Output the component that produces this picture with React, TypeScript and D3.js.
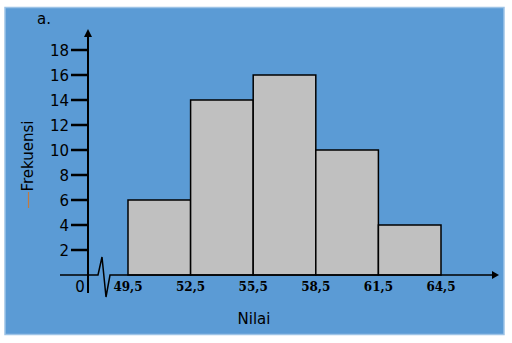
import React from "react";
import * as d3 from "d3";

const edges = [49.5, 52.5, 55.5, 58.5, 61.5, 64.5];
const edgeLabels = ["49,5", "52,5", "55,5", "58,5", "61,5", "64,5"];
const frequencies = [6, 14, 16, 10, 4];
const yTicks = [2, 4, 6, 8, 10, 12, 14, 16, 18];

const W = 512;
const H = 343;

export default function App() {
  const x = d3.scaleLinear().domain([49.5, 64.5]).range([128, 441]);
  const y = d3.scaleLinear().domain([0, 18]).range([275, 50]);
  const y0 = y(0);
  const axisX = 88;

  const baseLine = d3.line()([
    [60, y0],
    [98, y0],
    [102, y0 - 18],
    [106, y0 + 22],
    [110, y0],
    [492, y0],
  ]);

  return (
    <svg
      width={W}
      height={H}
      style={{ position: "absolute", left: 0, top: 0, background: "#fff" }}
    >
      <rect x={5} y={7.5} width={499} height={327} fill="#5b9bd5" stroke="#9dc3e6" strokeWidth={1.5} />

      {/* bars */}
      {frequencies.map((f, i) => (
        <rect
          key={i}
          x={x(edges[i])}
          y={y(f)}
          width={x(edges[i + 1]) - x(edges[i])}
          height={y0 - y(f)}
          fill="#c0c0c0"
          stroke="#000"
          strokeWidth={1.5}
        />
      ))}

      {/* baseline with break */}
      <path d={baseLine || ""} fill="none" stroke="#000" strokeWidth={1.5} />
      <path d={`M492,${y0 - 4}L499,${y0}L492,${y0 + 4}Z`} fill="#000" />

      {/* y axis */}
      <line x1={axisX} x2={axisX} y1={293} y2={36} stroke="#000" strokeWidth={2} />
      <path d={`M${axisX - 4},37L${axisX},29L${axisX + 4},37Z`} fill="#000" />

      {yTicks.map((t) => (
        <g key={t}>
          <line x1={71} x2={axisX} y1={y(t)} y2={y(t)} stroke="#000" strokeWidth={2.5} />
          <text
            x={69}
            y={y(t) + 5.5}
            textAnchor="end"
            fontFamily="DejaVu Sans"
            fontSize={15}
            fill="#000"
          >
            {t}
          </text>
        </g>
      ))}
      <text x={80} y={292} textAnchor="middle" fontFamily="DejaVu Sans" fontSize={15} fill="#000">
        0
      </text>

      {edges.map((e, i) => (
        <text
          key={e}
          x={x(e)}
          y={291}
          textAnchor="middle"
          fontFamily="DejaVu Serif"
          fontWeight="bold"
          fontSize={12}
          fill="#000"
        >
          {edgeLabels[i]}
        </text>
      ))}

      <text x={254} y={324} textAnchor="middle" fontFamily="DejaVu Sans" fontSize={15} fill="#000">
        Nilai
      </text>
      <text
        transform="translate(33,156) rotate(-90)"
        textAnchor="middle"
        fontFamily="DejaVu Sans"
        fontSize={15}
        fill="#000"
      >
        Frekuensi
      </text>
      <line x1={28.5} x2={28.5} y1={192} y2={208} stroke="#c07a40" strokeWidth={1.2} />
      <text x={37} y={24} fontFamily="DejaVu Sans" fontSize={15} fill="#000">
        a.
      </text>
    </svg>
  );
}
